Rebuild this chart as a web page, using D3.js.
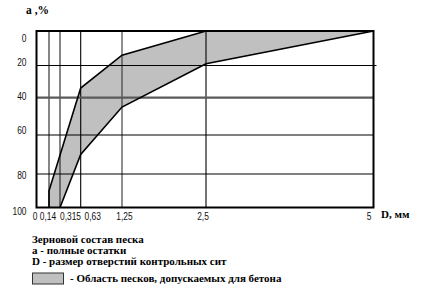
<!DOCTYPE html>
<html><head><meta charset="utf-8">
<script src="https://cdn.jsdelivr.net/npm/d3@7/dist/d3.min.js"></script>
<style>body{margin:0;background:#fff}svg{display:block}</style>
</head><body><svg id="c" width="437" height="299"></svg>
<script>
// ---- data ----
const xTicks = [0, 0.14, 0.315, 0.63, 1.25, 2.5, 5];
const xTickLabels = ["0", "0,14", "0,315", "0,63", "1,25", "2,5", "5"];
const yTicks = [0, 20, 40, 60, 80, 100];
const yTickLabels = ["0", "20", "40", "60", "80", "100"];
// upper boundary of the permitted zone (coarse limit)
const upperD = [0.14, 0.14, 0.63, 1.25, 2.5, 5];
const upperA = [100, 90, 34, 14, 0, 0];
// lower boundary of the permitted zone (fine limit)
const lowerD = [5, 2.5, 1.25, 0.63, 0.315];
const lowerA = [0, 19, 45, 70, 100];
const yTitle = "а ,%";
const xTitle = "D, мм";
const notes = ["Зерновой состав песка", "а - полные остатки", "D - размер отверстий контрольных сит"];
const legendLabel = "- Область песков, допускаемых для бетона";

// ---- layout / style ----
const svg = d3.select("#c");
const x = d3.scaleLinear().domain(xTicks).range([36.5, 49, 60, 80.7, 122, 206, 373.5]);
const y = d3.scaleLinear().domain(yTicks).range([31, 65.5, 97.7, 135, 174, 207.5]);
const xLabelShift = [-1.5, -1, 10.5, 12, 2.5, -3, -4.5];
const yLabelShift = [7, -3.5, -1, -5, 1, 3.5];
const serif = "'Liberation Serif','Times New Roman',serif";
const sans = "'Liberation Sans',Arial,sans-serif";
const squeeze = 0.8;

// zone polygon
const pts = upperD.map((d, i) => [x(d), y(upperA[i])])
  .concat(lowerD.map((d, i) => [x(d), y(lowerA[i])]));
svg.append("path")
  .attr("d", d3.line()(pts) + "Z")
  .attr("fill", "#c0c0c0").attr("stroke", "none");

// grid lines
const gridColor = {0.14: "#222", 0.315: "#222", 0.63: "#000", 1.25: "#333", 2.5: "#000"};
svg.append("g").selectAll("line").data(xTicks.slice(1, -1)).join("line")
  .attr("x1", d => x(d)).attr("x2", d => x(d))
  .attr("y1", y(0)).attr("y2", y(100))
  .attr("stroke", d => gridColor[d]).attr("stroke-width", 1.1);
svg.append("g").selectAll("line").data(yTicks.slice(1, -1)).join("line")
  .attr("x1", x(0)).attr("x2", d => d === 20 ? x(5) + 3 : x(5))
  .attr("y1", d => y(d)).attr("y2", d => y(d))
  .attr("stroke", d => d === 40 ? "#5a5a5a" : "#000")
  .attr("stroke-width", d => d === 40 ? 2.2 : 1.1);

// boundary lines
const line = d3.line();
svg.append("path")
  .attr("d", line(upperD.map((d, i) => [x(d), y(upperA[i])])))
  .attr("fill", "none").attr("stroke", "#000").attr("stroke-width", 1.6);
svg.append("path")
  .attr("d", line(lowerD.map((d, i) => [x(d), y(lowerA[i])])))
  .attr("fill", "none").attr("stroke", "#000").attr("stroke-width", 1.6);

// frame
svg.append("rect")
  .attr("x", x(0)).attr("y", y(0))
  .attr("width", x(5) - x(0)).attr("height", y(100) - y(0))
  .attr("fill", "none").attr("stroke", "#000").attr("stroke-width", 2);

// tick labels (narrowed, like the original bitmap font)
svg.append("g").selectAll("text").data(xTicks).join("text")
  .attr("transform", (d, i) => `translate(${x(d) + xLabelShift[i]},216) scale(${squeeze},1)`)
  .attr("dy", "0.35em").attr("text-anchor", "middle")
  .attr("font-family", sans).attr("font-size", 10.5).attr("fill", "#111")
  .text((d, i) => xTickLabels[i]);
svg.append("g").selectAll("text").data(yTicks).join("text")
  .attr("transform", (d, i) => `translate(26.5,${y(d) + yLabelShift[i]}) scale(${squeeze},1)`)
  .attr("dy", "0.35em").attr("text-anchor", "end")
  .attr("font-family", sans).attr("font-size", 10.5).attr("fill", "#111")
  .text((d, i) => yTickLabels[i]);

// axis titles
svg.append("text").attr("x", 26).attr("y", 10).attr("dy", "0.35em")
  .attr("font-family", serif).attr("font-weight", "bold").attr("font-size", 11.5)
  .text(yTitle);
svg.append("text").attr("x", 381).attr("y", 214).attr("dy", "0.35em")
  .attr("font-family", serif).attr("font-weight", "bold").attr("font-size", 11)
  .text(xTitle);

// notes
svg.append("g").selectAll("text").data(notes).join("text")
  .attr("x", 32).attr("y", (d, i) => 239 + i * 11).attr("dy", "0.35em")
  .attr("font-family", serif).attr("font-weight", "bold").attr("font-size", 11)
  .text(d => d);

// legend
svg.append("rect").attr("x", 32.5).attr("y", 273).attr("width", 31).attr("height", 11)
  .attr("fill", "#c0c0c0").attr("stroke", "#333").attr("stroke-width", 1);
svg.append("text").attr("x", 70).attr("y", 278.5).attr("dy", "0.35em")
  .attr("font-family", serif).attr("font-weight", "bold").attr("font-size", 11)
  .text(legendLabel);
</script></body></html>
